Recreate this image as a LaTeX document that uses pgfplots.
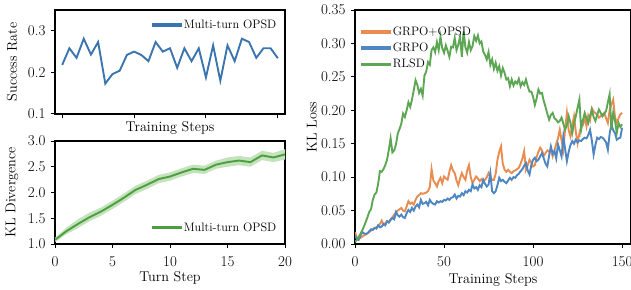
\documentclass[border=0pt]{standalone}
\usepackage{pgfplots}
\usepackage{pgfplotstable}
\pgfplotsset{compat=1.18}
\definecolor{topblue}{HTML}{3B75AF}
\definecolor{klgreen}{HTML}{4C9E40}
\definecolor{bandgreen}{HTML}{C4E2BC}
\definecolor{rorange}{HTML}{E98C52}
\definecolor{rblue}{HTML}{4D86C1}
\definecolor{rgreen}{HTML}{5DA653}

\pgfplotstableread{
o b g
0.018 0.012 0.003
0.010 0.008 0.006
0.008 0.006 0.010
0.009 0.012 0.015
0.011 0.018 0.020
0.013 0.016 0.026
0.014 0.015 0.033
0.016 0.016 0.040
0.018 0.019 0.048
0.020 0.022 0.052
0.022 0.021 0.066
0.024 0.024 0.074
0.025 0.023 0.077
0.027 0.028 0.090
0.030 0.025 0.109
0.035 0.026 0.108
0.029 0.030 0.112
0.031 0.028 0.118
0.034 0.034 0.126
0.033 0.032 0.141
0.037 0.036 0.158
0.040 0.039 0.137
0.044 0.037 0.140
0.047 0.048 0.149
0.050 0.043 0.165
0.052 0.041 0.172
0.054 0.044 0.180
0.050 0.040 0.195
0.049 0.039 0.190
0.056 0.046 0.200
0.064 0.051 0.212
0.060 0.048 0.205
0.062 0.054 0.216
0.059 0.050 0.230
0.066 0.056 0.245
0.071 0.059 0.238
0.073 0.055 0.226
0.076 0.066 0.232
0.075 0.060 0.222
0.076 0.061 0.252
0.077 0.063 0.258
0.079 0.058 0.272
0.085 0.066 0.268
0.112 0.062 0.290
0.095 0.060 0.294
0.091 0.059 0.287
0.086 0.064 0.302
0.094 0.062 0.290
0.099 0.064 0.310
0.091 0.063 0.293
0.101 0.066 0.286
0.098 0.065 0.297
0.096 0.068 0.289
0.108 0.066 0.280
0.118 0.069 0.295
0.110 0.070 0.294
0.106 0.074 0.308
0.095 0.068 0.290
0.088 0.072 0.298
0.098 0.071 0.310
0.106 0.076 0.280
0.100 0.073 0.318
0.096 0.079 0.294
0.110 0.077 0.286
0.118 0.081 0.302
0.100 0.079 0.290
0.091 0.089 0.296
0.096 0.083 0.311
0.101 0.085 0.304
0.098 0.081 0.312
0.094 0.088 0.300
0.097 0.085 0.303
0.093 0.096 0.288
0.096 0.090 0.283
0.100 0.086 0.276
0.106 0.089 0.287
0.100 0.106 0.268
0.096 0.079 0.276
0.096 0.076 0.262
0.105 0.079 0.271
0.126 0.088 0.259
0.138 0.099 0.266
0.146 0.094 0.252
0.120 0.096 0.263
0.111 0.093 0.256
0.108 0.091 0.246
0.111 0.095 0.248
0.108 0.099 0.236
0.106 0.096 0.246
0.109 0.100 0.237
0.110 0.099 0.243
0.112 0.103 0.240
0.114 0.105 0.247
0.120 0.109 0.236
0.128 0.112 0.242
0.139 0.117 0.238
0.111 0.121 0.246
0.118 0.110 0.236
0.126 0.104 0.228
0.122 0.118 0.228
0.116 0.126 0.220
0.118 0.129 0.208
0.130 0.124 0.218
0.138 0.126 0.231
0.144 0.131 0.225
0.140 0.136 0.226
0.132 0.128 0.214
0.136 0.120 0.205
0.140 0.116 0.195
0.138 0.132 0.186
0.141 0.146 0.193
0.131 0.135 0.196
0.140 0.139 0.188
0.150 0.128 0.186
0.158 0.149 0.182
0.171 0.140 0.184
0.155 0.131 0.189
0.141 0.161 0.180
0.172 0.142 0.171
0.196 0.124 0.178
0.170 0.138 0.191
0.161 0.148 0.181
0.178 0.154 0.166
0.191 0.150 0.180
0.168 0.156 0.191
0.151 0.152 0.204
0.165 0.155 0.216
0.176 0.154 0.171
0.178 0.157 0.185
0.189 0.159 0.196
0.176 0.158 0.188
0.192 0.163 0.181
0.185 0.171 0.192
0.203 0.155 0.201
0.198 0.134 0.190
0.196 0.148 0.184
0.193 0.159 0.193
0.189 0.157 0.201
0.191 0.160 0.196
0.194 0.159 0.191
0.196 0.156 0.195
0.188 0.152 0.199
0.181 0.141 0.212
0.200 0.165 0.224
0.209 0.179 0.171
0.216 0.170 0.196
0.190 0.166 0.185
0.181 0.156 0.166
0.188 0.158 0.181
0.194 0.159 0.175
0.196 0.174 0.179
}\kltable

\pgfplotstableread{
x y
0 0.218
1 0.258
2 0.235
3 0.281
4 0.243
5 0.273
6 0.173
7 0.196
8 0.204
9 0.242
10 0.250
11 0.242
12 0.227
13 0.273
14 0.250
15 0.258
16 0.211
17 0.258
18 0.227
19 0.258
20 0.188
21 0.265
22 0.180
23 0.265
24 0.227
25 0.281
26 0.273
27 0.235
28 0.258
29 0.258
30 0.234
}\succtable

\pgfplotstableread{
x y
0 1.08
1 1.25
2 1.39
3 1.52
4 1.63
5 1.76
6 1.90
7 2.05
8 2.15
9 2.26
10 2.31
11 2.39
12 2.46
13 2.44
14 2.54
15 2.59
16 2.62
17 2.59
18 2.72
19 2.68
20 2.74
}\divtable

% band polygon: upper bound forward, lower bound backward
\pgfplotstableread{
x y
0 1.12
1 1.32
2 1.48
3 1.61
4 1.71
5 1.84
6 1.98
7 2.13
8 2.23
9 2.34
10 2.39
11 2.47
12 2.54
13 2.52
14 2.62
15 2.68
16 2.71
17 2.68
18 2.81
19 2.77
20 2.84
20 2.64
19 2.59
18 2.63
17 2.50
16 2.53
15 2.50
14 2.46
13 2.36
12 2.38
11 2.31
10 2.23
9 2.18
8 2.07
7 1.97
6 1.82
5 1.68
4 1.55
3 1.44
2 1.31
1 1.19
0 1.04
}\bandtable

\begin{document}
\begin{tikzpicture}
\useasboundingbox (0pt,0pt) rectangle (631pt,-289pt);
\pgfplotsset{
  mystyle/.style={
    scale only axis,
    axis line style={line width=1.1pt, black},
    tick align=outside,
    major tick length=4pt,
    tick style={line width=1pt, black},
    xtick pos=left, ytick pos=left,
    xticklabel shift=5pt,
    yticklabel shift=2pt,
    font=\fontsize{14.2}{17}\selectfont,
    tick label style={font=\fontsize{15}{17}\selectfont},
    legend style={draw=none, fill=none, font=\fontsize{12.2}{14}\selectfont, row sep=2pt},
    legend cell align=left,
    every axis plot/.append style={line width=1.9pt},
    legend image code/.code={\fill[##1] (0pt,-0.8pt) rectangle (28pt,0.8pt);},
    /pgf/number format/assume math mode=true,
  }
}
% top-left
\begin{axis}[mystyle, at={(55pt,-10pt)}, anchor=north west,
  width=230pt, height=104pt,
  xmin=-1, xmax=31, ymin=0.1, ymax=0.35,
  xtick={0,10,20,30}, xticklabels={},
  ytick={0.1,0.2,0.3},
  yticklabel style={/pgf/number format/.cd, fixed, fixed zerofill, precision=1},
  xlabel={Training Steps},
  xlabel style={at={(axis description cs:0.5,-0.135)}, anchor=center},
  ylabel={Success Rate},
  ylabel style={at={(axis description cs:-0.187,0.5)}, anchor=center},
  legend style={at={(0.985,0.945)}, anchor=north east}]
\addplot[topblue] table[x=x, y=y] {\succtable};
\addlegendentry{Multi-turn OPSD}
\end{axis}
% bottom-left
\begin{axis}[mystyle, at={(55pt,-141pt)}, anchor=north west,
  width=230pt, height=103pt,
  xmin=0, xmax=20, ymin=1.0, ymax=3.0,
  xtick={0,5,10,15,20},
  ytick={1.0,1.5,2.0,2.5,3.0},
  yticklabel style={/pgf/number format/.cd, fixed, fixed zerofill, precision=1},
  xlabel={Turn Step},
  xlabel style={at={(axis description cs:0.5,-0.33)}, anchor=center},
  ylabel={KL Divergence},
  ylabel style={at={(axis description cs:-0.187,0.5)}, anchor=center},
  legend style={at={(0.985,0.07)}, anchor=south east}]
\addplot[fill=bandgreen, draw=none, forget plot] table[x=x, y=y] {\bandtable} -- cycle;
\addplot[klgreen] table[x=x, y=y] {\divtable};
\addlegendentry{Multi-turn OPSD}
\end{axis}
% right
\begin{axis}[mystyle, at={(355pt,-10pt)}, anchor=north west,
  width=276pt, height=234pt,
  xmin=0, xmax=155, ymin=0, ymax=0.35,
  xtick={0,50,100,150},
  ytick={0,0.05,0.10,0.15,0.20,0.25,0.30,0.35},
  yticklabel style={/pgf/number format/.cd, fixed, fixed zerofill, precision=2},
  xlabel={Training Steps},
  xlabel style={at={(axis description cs:0.5,-0.154)}, anchor=center},
  ylabel={KL Loss},
  ylabel style={at={(axis description cs:-0.156,0.5)}, anchor=center},
  legend style={at={(0.01,0.945)}, anchor=north west}]
\addplot[rorange] table[x expr=\coordindex, y=o] {\kltable};
\addlegendentry{GRPO+OPSD}
\addplot[rblue] table[x expr=\coordindex, y=b] {\kltable};
\addlegendentry{GRPO}
\addplot[rgreen] table[x expr=\coordindex, y=g] {\kltable};
\addlegendentry{RLSD}
\end{axis}
\end{tikzpicture}
\end{document}
